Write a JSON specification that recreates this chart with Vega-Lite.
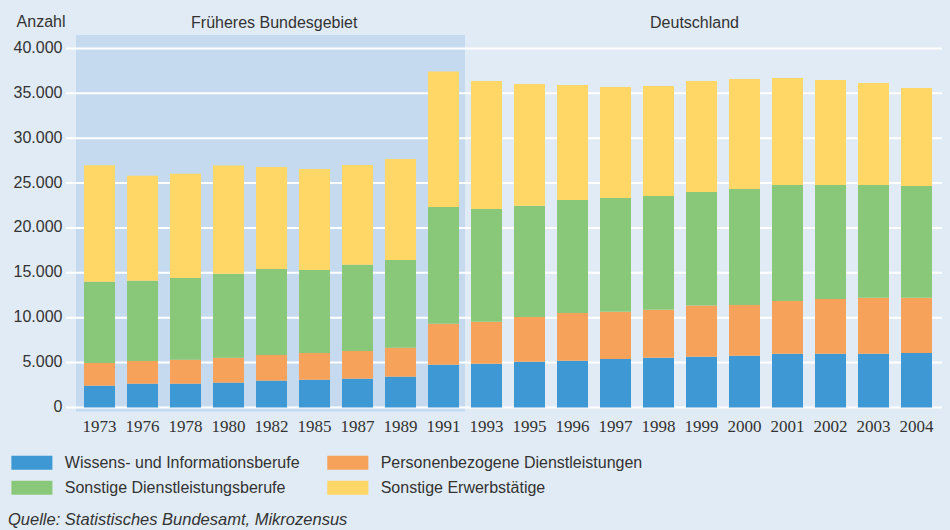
{
  "$schema": "https://vega.github.io/schema/vega-lite/v6.json",
  "width": 876,
  "height": 372.5,
  "autosize": {"type": "none"},
  "padding": {"left": 66, "top": 35, "right": 8, "bottom": 122.5},
  "background": "#e1ebf5",
  "title": {
    "text": "Quelle: Statistisches Bundesamt, Mikrozensus",
    "orient": "bottom",
    "anchor": "start",
    "frame": "group",
    "font": "Liberation Sans",
    "fontStyle": "italic",
    "fontWeight": "normal",
    "fontSize": 16.5,
    "color": "#333333",
    "dx": -58,
    "offset": 16
  },
  "datasets": {
    "werte": [
      {"jahr": "1973", "gruppe": "Wissens- und Informationsberufe", "nr": 1, "anzahl": 2430},
      {"jahr": "1973", "gruppe": "Personenbezogene Dienstleistungen", "nr": 2, "anzahl": 2530},
      {"jahr": "1973", "gruppe": "Sonstige Dienstleistungsberufe", "nr": 3, "anzahl": 9040},
      {"jahr": "1973", "gruppe": "Sonstige Erwerbstätige", "nr": 4, "anzahl": 13000},
      {"jahr": "1976", "gruppe": "Wissens- und Informationsberufe", "nr": 1, "anzahl": 2650},
      {"jahr": "1976", "gruppe": "Personenbezogene Dienstleistungen", "nr": 2, "anzahl": 2530},
      {"jahr": "1976", "gruppe": "Sonstige Dienstleistungsberufe", "nr": 3, "anzahl": 8950},
      {"jahr": "1976", "gruppe": "Sonstige Erwerbstätige", "nr": 4, "anzahl": 11700},
      {"jahr": "1978", "gruppe": "Wissens- und Informationsberufe", "nr": 1, "anzahl": 2650},
      {"jahr": "1978", "gruppe": "Personenbezogene Dienstleistungen", "nr": 2, "anzahl": 2680},
      {"jahr": "1978", "gruppe": "Sonstige Dienstleistungsberufe", "nr": 3, "anzahl": 9100},
      {"jahr": "1978", "gruppe": "Sonstige Erwerbstätige", "nr": 4, "anzahl": 11620},
      {"jahr": "1980", "gruppe": "Wissens- und Informationsberufe", "nr": 1, "anzahl": 2770},
      {"jahr": "1980", "gruppe": "Personenbezogene Dienstleistungen", "nr": 2, "anzahl": 2780},
      {"jahr": "1980", "gruppe": "Sonstige Dienstleistungsberufe", "nr": 3, "anzahl": 9360},
      {"jahr": "1980", "gruppe": "Sonstige Erwerbstätige", "nr": 4, "anzahl": 12040},
      {"jahr": "1982", "gruppe": "Wissens- und Informationsberufe", "nr": 1, "anzahl": 2990},
      {"jahr": "1982", "gruppe": "Personenbezogene Dienstleistungen", "nr": 2, "anzahl": 2860},
      {"jahr": "1982", "gruppe": "Sonstige Dienstleistungsberufe", "nr": 3, "anzahl": 9580},
      {"jahr": "1982", "gruppe": "Sonstige Erwerbstätige", "nr": 4, "anzahl": 11370},
      {"jahr": "1985", "gruppe": "Wissens- und Informationsberufe", "nr": 1, "anzahl": 3100},
      {"jahr": "1985", "gruppe": "Personenbezogene Dienstleistungen", "nr": 2, "anzahl": 2970},
      {"jahr": "1985", "gruppe": "Sonstige Dienstleistungsberufe", "nr": 3, "anzahl": 9250},
      {"jahr": "1985", "gruppe": "Sonstige Erwerbstätige", "nr": 4, "anzahl": 11250},
      {"jahr": "1987", "gruppe": "Wissens- und Informationsberufe", "nr": 1, "anzahl": 3210},
      {"jahr": "1987", "gruppe": "Personenbezogene Dienstleistungen", "nr": 2, "anzahl": 3090},
      {"jahr": "1987", "gruppe": "Sonstige Dienstleistungsberufe", "nr": 3, "anzahl": 9610},
      {"jahr": "1987", "gruppe": "Sonstige Erwerbstätige", "nr": 4, "anzahl": 11110},
      {"jahr": "1989", "gruppe": "Wissens- und Informationsberufe", "nr": 1, "anzahl": 3430},
      {"jahr": "1989", "gruppe": "Personenbezogene Dienstleistungen", "nr": 2, "anzahl": 3240},
      {"jahr": "1989", "gruppe": "Sonstige Dienstleistungsberufe", "nr": 3, "anzahl": 9760},
      {"jahr": "1989", "gruppe": "Sonstige Erwerbstätige", "nr": 4, "anzahl": 11260},
      {"jahr": "1991", "gruppe": "Wissens- und Informationsberufe", "nr": 1, "anzahl": 4770},
      {"jahr": "1991", "gruppe": "Personenbezogene Dienstleistungen", "nr": 2, "anzahl": 4570},
      {"jahr": "1991", "gruppe": "Sonstige Dienstleistungsberufe", "nr": 3, "anzahl": 13000},
      {"jahr": "1991", "gruppe": "Sonstige Erwerbstätige", "nr": 4, "anzahl": 15080},
      {"jahr": "1993", "gruppe": "Wissens- und Informationsberufe", "nr": 1, "anzahl": 4880},
      {"jahr": "1993", "gruppe": "Personenbezogene Dienstleistungen", "nr": 2, "anzahl": 4680},
      {"jahr": "1993", "gruppe": "Sonstige Dienstleistungsberufe", "nr": 3, "anzahl": 12560},
      {"jahr": "1993", "gruppe": "Sonstige Erwerbstätige", "nr": 4, "anzahl": 14260},
      {"jahr": "1995", "gruppe": "Wissens- und Informationsberufe", "nr": 1, "anzahl": 5100},
      {"jahr": "1995", "gruppe": "Personenbezogene Dienstleistungen", "nr": 2, "anzahl": 4980},
      {"jahr": "1995", "gruppe": "Sonstige Dienstleistungsberufe", "nr": 3, "anzahl": 12410},
      {"jahr": "1995", "gruppe": "Sonstige Erwerbstätige", "nr": 4, "anzahl": 13550},
      {"jahr": "1996", "gruppe": "Wissens- und Informationsberufe", "nr": 1, "anzahl": 5210},
      {"jahr": "1996", "gruppe": "Personenbezogene Dienstleistungen", "nr": 2, "anzahl": 5320},
      {"jahr": "1996", "gruppe": "Sonstige Dienstleistungsberufe", "nr": 3, "anzahl": 12590},
      {"jahr": "1996", "gruppe": "Sonstige Erwerbstätige", "nr": 4, "anzahl": 12810},
      {"jahr": "1997", "gruppe": "Wissens- und Informationsberufe", "nr": 1, "anzahl": 5400},
      {"jahr": "1997", "gruppe": "Personenbezogene Dienstleistungen", "nr": 2, "anzahl": 5280},
      {"jahr": "1997", "gruppe": "Sonstige Dienstleistungsberufe", "nr": 3, "anzahl": 12660},
      {"jahr": "1997", "gruppe": "Sonstige Erwerbstätige", "nr": 4, "anzahl": 12370},
      {"jahr": "1998", "gruppe": "Wissens- und Informationsberufe", "nr": 1, "anzahl": 5550},
      {"jahr": "1998", "gruppe": "Personenbezogene Dienstleistungen", "nr": 2, "anzahl": 5350},
      {"jahr": "1998", "gruppe": "Sonstige Dienstleistungsberufe", "nr": 3, "anzahl": 12670},
      {"jahr": "1998", "gruppe": "Sonstige Erwerbstätige", "nr": 4, "anzahl": 12250},
      {"jahr": "1999", "gruppe": "Wissens- und Informationsberufe", "nr": 1, "anzahl": 5660},
      {"jahr": "1999", "gruppe": "Personenbezogene Dienstleistungen", "nr": 2, "anzahl": 5690},
      {"jahr": "1999", "gruppe": "Sonstige Dienstleistungsberufe", "nr": 3, "anzahl": 12660},
      {"jahr": "1999", "gruppe": "Sonstige Erwerbstätige", "nr": 4, "anzahl": 12370},
      {"jahr": "2000", "gruppe": "Wissens- und Informationsberufe", "nr": 1, "anzahl": 5770},
      {"jahr": "2000", "gruppe": "Personenbezogene Dienstleistungen", "nr": 2, "anzahl": 5650},
      {"jahr": "2000", "gruppe": "Sonstige Dienstleistungsberufe", "nr": 3, "anzahl": 12930},
      {"jahr": "2000", "gruppe": "Sonstige Erwerbstätige", "nr": 4, "anzahl": 12250},
      {"jahr": "2001", "gruppe": "Wissens- und Informationsberufe", "nr": 1, "anzahl": 6000},
      {"jahr": "2001", "gruppe": "Personenbezogene Dienstleistungen", "nr": 2, "anzahl": 5870},
      {"jahr": "2001", "gruppe": "Sonstige Dienstleistungsberufe", "nr": 3, "anzahl": 12920},
      {"jahr": "2001", "gruppe": "Sonstige Erwerbstätige", "nr": 4, "anzahl": 11920},
      {"jahr": "2002", "gruppe": "Wissens- und Informationsberufe", "nr": 1, "anzahl": 6000},
      {"jahr": "2002", "gruppe": "Personenbezogene Dienstleistungen", "nr": 2, "anzahl": 6090},
      {"jahr": "2002", "gruppe": "Sonstige Dienstleistungsberufe", "nr": 3, "anzahl": 12700},
      {"jahr": "2002", "gruppe": "Sonstige Erwerbstätige", "nr": 4, "anzahl": 11700},
      {"jahr": "2003", "gruppe": "Wissens- und Informationsberufe", "nr": 1, "anzahl": 6000},
      {"jahr": "2003", "gruppe": "Personenbezogene Dienstleistungen", "nr": 2, "anzahl": 6240},
      {"jahr": "2003", "gruppe": "Sonstige Dienstleistungsberufe", "nr": 3, "anzahl": 12550},
      {"jahr": "2003", "gruppe": "Sonstige Erwerbstätige", "nr": 4, "anzahl": 11370},
      {"jahr": "2004", "gruppe": "Wissens- und Informationsberufe", "nr": 1, "anzahl": 6070},
      {"jahr": "2004", "gruppe": "Personenbezogene Dienstleistungen", "nr": 2, "anzahl": 6170},
      {"jahr": "2004", "gruppe": "Sonstige Dienstleistungsberufe", "nr": 3, "anzahl": 12440},
      {"jahr": "2004", "gruppe": "Sonstige Erwerbstätige", "nr": 4, "anzahl": 10920}
    ],
    "raster": [
      {"v": 0}, {"v": 5000}, {"v": 10000}, {"v": 15000}, {"v": 20000},
      {"v": 25000}, {"v": 30000}, {"v": 35000}, {"v": 40000}
    ],
    "gebiet": [
      {"von": "1973", "bis": "1991"}
    ]
  },
  "layer": [
    {
      "data": {"name": "gebiet"},
      "mark": {"type": "rect", "color": "#c5daee", "xOffset": -8, "x2Offset": 6, "y2Offset": 4},
      "encoding": {
        "x": {"field": "von", "type": "ordinal", "bandPosition": 0, "title": null},
        "x2": {"field": "bis", "bandPosition": 1},
        "y": {"datum": 41500, "type": "quantitative", "title": "Anzahl"},
        "y2": {"datum": 0}
      }
    },
    {
      "data": {"name": "raster"},
      "mark": {"type": "rule", "color": "#ffffff", "strokeWidth": 2},
      "encoding": {
        "y": {"field": "v", "type": "quantitative", "title": "Anzahl"}
      }
    },
    {
      "data": {"name": "werte"},
      "mark": {"type": "bar"},
      "encoding": {
        "x": {
          "field": "jahr",
          "type": "ordinal",
          "sort": null,
          "title": null,
          "scale": {
            "domain": ["1973","1976","1978","1980","1982","1985","1987","1989","1991","1993","1995","1996","1997","1998","1999","2000","2001","2002","2003","2004"],
            "paddingInner": 0.279,
            "paddingOuter": 0.3256,
            "align": 0.643
          }
        },
        "y": {
          "field": "anzahl",
          "type": "quantitative",
          "stack": "zero",
          "title": "Anzahl",
          "scale": {"domain": [0, 41500], "nice": false, "zero": true},
          "axis": {
            "values": [0, 5000, 10000, 15000, 20000, 25000, 30000, 35000, 40000],
            "labelExpr": "replace(format(datum.value, ','), regexp(',', 'g'), '.')"
          }
        },
        "color": {
          "field": "gruppe",
          "type": "nominal",
          "scale": {
            "domain": ["Wissens- und Informationsberufe", "Sonstige Dienstleistungsberufe", "Personenbezogene Dienstleistungen", "Sonstige Erwerbstätige"],
            "range": ["#3d98d3", "#8ac879", "#f6a25b", "#fed766"]
          },
          "legend": {
            "orient": "none",
            "legendX": -51.1,
            "legendY": 410.75,
            "columns": 2,
            "title": null,
            "symbolType": "M-1.235,-0.42H1.235V0.42H-1.235Z",
            "symbolSize": 1104,
            "symbolStrokeWidth": 0,
            "symbolOpacity": 1,
            "labelFont": "Liberation Sans",
            "labelFontSize": 16,
            "labelColor": "#333333",
            "labelOffset": 15.9,
            "columnPadding": 26.9,
            "rowPadding": 0,
            "labelLimit": 400
          }
        },
        "order": {"field": "nr", "type": "quantitative"}
      }
    },
    {
      "data": {"values": [{"label": "Früheres Bundesgebiet"}]},
      "mark": {"type": "text", "font": "Liberation Sans", "fontSize": 16, "color": "#333333", "align": "center", "baseline": "alphabetic"},
      "encoding": {
        "x": {"datum": "1982", "type": "ordinal", "bandPosition": 0.587, "title": null},
        "y": {"datum": 42284, "type": "quantitative", "title": "Anzahl"},
        "text": {"field": "label"}
      }
    },
    {
      "data": {"values": [{"label": "Deutschland"}]},
      "mark": {"type": "text", "font": "Liberation Sans", "fontSize": 16, "color": "#333333", "align": "center", "baseline": "alphabetic"},
      "encoding": {
        "x": {"datum": "1999", "type": "ordinal", "bandPosition": 0.274, "title": null},
        "y": {"datum": 42284, "type": "quantitative", "title": "Anzahl"},
        "text": {"field": "label"}
      }
    }
  ],
  "config": {
    "view": {"stroke": null},
    "font": "Liberation Sans",
    "legend": {"padding": 0},
    "axisX": {
      "labelAngle": 0,
      "ticks": false,
      "domain": false,
      "grid": false,
      "labelFont": "Liberation Sans Narrow",
      "labelFontSize": 17,
      "labelColor": "#333333",
      "labelPadding": 11
    },
    "axisY": {
      "grid": false,
      "ticks": false,
      "domain": false,
      "labelFont": "Liberation Sans",
      "labelFontSize": 16,
      "labelColor": "#333333",
      "labelPadding": 4,
      "labelOffset": -1,
      "titleAngle": 0,
      "titleAlign": "right",
      "titleBaseline": "alphabetic",
      "titleX": -1,
      "titleY": -8.5,
      "titleFont": "Liberation Sans",
      "titleFontSize": 16,
      "titleFontWeight": "normal",
      "titleColor": "#333333"
    }
  }
}
